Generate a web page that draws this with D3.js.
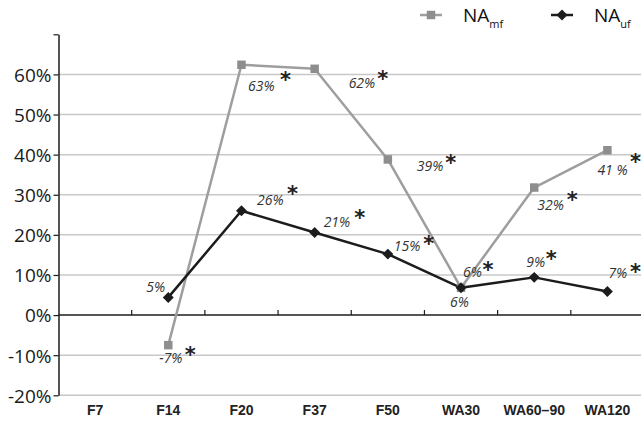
<!DOCTYPE html>
<html><head><meta charset="utf-8">
<script src="https://cdn.jsdelivr.net/npm/d3@7"></script>
<style>body{margin:0;background:#fff}svg{display:block}</style>
</head><body><svg id="c" width="641" height="421"></svg>
<script>
const categories = ["F7", "F14", "F20", "F37", "F50", "WA30", "WA60–90", "WA120"];
const naMf = [null, -7.5, 62.4, 61.4, 38.8, 6.8, 31.8, 41.1];
const naUf = [null, 4.4, 26.0, 20.6, 15.2, 6.8, 9.4, 5.9];
const mfLabels = [null, "-7%", "63%", "62%", "39%", "6%", "32%", "41 %"];
const ufLabels = [null, "5%", "26%", "21%", "15%", "6%", "9%", "7%"];
const mfSignificant = [false, true, true, true, true, true, true, true];
const ufSignificant = [false, false, true, true, true, false, true, true];
const yTickValues = [-20, -10, 0, 10, 20, 30, 40, 50, 60, 70];
const yTickLabels = ["-20%", "-10%", "0%", "10%", "20%", "30%", "40%", "50%", "60%", ""];
const seriesNames = ["mf", "uf"];

// label layout offsets (text start dx, baseline dy, asterisk dx, dy) relative to point
const mfLayout = [null, [-9,18,22,4],[6.5,26,44,9],[34,19,68,4],[29,12,63,-2],[2,-11,27,-24],[3,22,38,6],[-10,25,28,6]];
const ufLayout = [null, [-22,-5],[15.5,-6,51,-23],[9,-5,45,-20],[6,-3,41,-16],[-11,19],[-8,-10,17,-24],[1,-13,28,-25]];

const svg = d3.select("#c");
const x = d3.scaleBand().domain(categories).range([58.5, 644]).padding(0);
const y = d3.scaleLinear().domain([-20, 70]).range([395.3, 34.3]);
const cx = c => x(c) + x.bandwidth() / 2;
const GRAY = "#9e9e9e", GRAYM = "#8e8e8e", BLACK = "#1c1c1c";

// gridlines
svg.append("g").selectAll("line").data(yTickValues.filter(v => v !== 0 && v !== 70)).join("line")
  .attr("x1", 58.5).attr("x2", 641).attr("y1", d => y(d)).attr("y2", d => y(d))
  .attr("stroke", "#c8c8c8").attr("stroke-width", 1.5);

// y axis
const yAxis = svg.append("g").attr("transform", "translate(58.5,0)")
  .call(d3.axisLeft(y).tickValues(yTickValues).tickSize(5).tickSizeOuter(0)
    .tickFormat((d, i) => yTickLabels[i]));
yAxis.select(".domain").attr("stroke", BLACK).attr("stroke-width", 1.5);
yAxis.selectAll(".tick line").attr("stroke", BLACK).attr("stroke-width", 1.2);
yAxis.selectAll(".tick text").attr("font-family", "'Open Sans', sans-serif").attr("font-size", 19)
  .attr("fill", "#1a1a1a").attr("x", -7).attr("dy", "0.36em");

// x axis at zero
const y0 = y(0);
svg.append("line").attr("x1", 58.5).attr("x2", 644).attr("y1", y0).attr("y2", y0)
  .attr("stroke", BLACK).attr("stroke-width", 1.5);
svg.append("g").selectAll("line").data(categories.slice(1)).join("line")
  .attr("x1", d => x(d)).attr("x2", d => x(d)).attr("y1", y0).attr("y2", y0 - 5)
  .attr("stroke", BLACK).attr("stroke-width", 1.2);
svg.append("g").selectAll("text").data(categories).join("text")
  .attr("x", d => cx(d)).attr("y", 415).attr("text-anchor", "middle")
  .attr("font-family", "'Liberation Sans Narrow', 'Arial Narrow', sans-serif").attr("font-weight", "bold")
  .attr("font-size", 14).attr("fill", "#222").text(d => d);

// lines
const mfData = categories.map((c, i) => ({c, v: naMf[i], i}));
const ufData = categories.map((c, i) => ({c, v: naUf[i], i}));
const line = d3.line().defined(d => d.v != null).x(d => cx(d.c)).y(d => y(d.v));
svg.append("path").datum(mfData).attr("d", line).attr("fill", "none").attr("stroke", GRAY).attr("stroke-width", 2.5).attr("stroke-linejoin", "round");
svg.append("path").datum(ufData).attr("d", line).attr("fill", "none").attr("stroke", BLACK).attr("stroke-width", 2.5).attr("stroke-linejoin", "round");

const sq = d3.symbol(d3.symbolSquare, 72)();
const dia = d3.symbol(d3.symbolSquare, 60)();
svg.append("g").selectAll("path").data(mfData.filter(d => d.v != null)).join("path")
  .attr("d", sq).attr("transform", d => `translate(${cx(d.c)},${y(d.v)})`).attr("fill", GRAYM);
svg.append("g").selectAll("path").data(ufData.filter(d => d.v != null)).join("path")
  .attr("d", dia).attr("transform", d => `translate(${cx(d.c)},${y(d.v)}) rotate(45)`).attr("fill", BLACK);

// value labels
function labels(data, texts, sig, layout) {
  const g = svg.append("g");
  data.filter(d => d.v != null).forEach(d => {
    const L = layout[d.i], px = cx(d.c), py = y(d.v);
    g.append("text").attr("x", px + L[0]).attr("y", py + L[1])
      .attr("font-family", "'Open Sans', sans-serif").attr("font-style", "italic")
      .attr("font-size", 14).attr("fill", "#333").text(texts[d.i]);
    if (sig[d.i]) {
      g.append("text").attr("x", px + L[2]).attr("y", py + L[3] + 13).attr("text-anchor", "middle")
        .attr("font-family", "'DejaVu Sans', sans-serif").attr("font-weight", "bold")
        .attr("font-size", 21).attr("fill", "#222").text("*");
    }
  });
}
labels(mfData, mfLabels, mfSignificant, mfLayout);
labels(ufData, ufLabels, ufSignificant, ufLayout);

// legend
const leg = [{n: seriesNames[0], x0: 420, col: GRAY, m: sq, rot: 0, mc: GRAYM}, {n: seriesNames[1], x0: 551, col: BLACK, m: dia, rot: 45, mc: BLACK}];
leg.forEach(l => {
  svg.append("line").attr("x1", l.x0).attr("x2", l.x0 + 22).attr("y1", 15).attr("y2", 15).attr("stroke", l.col).attr("stroke-width", 2.5);
  svg.append("path").attr("d", l.m).attr("transform", `translate(${l.x0 + 11},15) rotate(${l.rot})`).attr("fill", l.mc);
  const t = svg.append("text").attr("x", l.x0 + 43).attr("y", 22).attr("font-family", "'Open Sans', sans-serif")
    .attr("font-size", 19).attr("fill", "#111");
  t.append("tspan").text("NA");
  t.append("tspan").attr("font-size", 11).attr("dy", 6).text(l.n);
});
</script></body></html>
